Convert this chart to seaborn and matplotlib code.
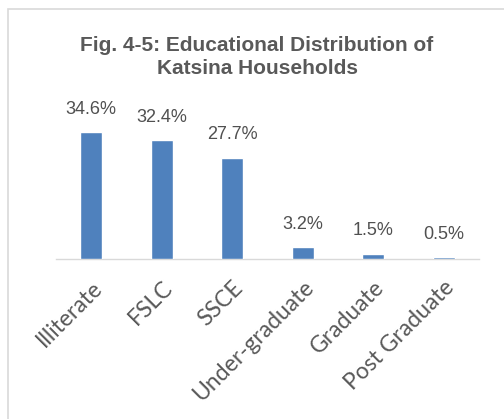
import matplotlib
matplotlib.use("Agg")
import matplotlib.pyplot as plt
import seaborn as sns
import pandas as pd
from matplotlib.patches import Rectangle

categories = ["Illiterate", "FSLC", "SSCE", "Under-graduate", "Graduate", "Post Graduate"]
values = [34.6, 32.4, 27.7, 3.2, 1.5, 0.5]
labels = ["34.6%", "32.4%", "27.7%", "3.2%", "1.5%", "0.5%"]
title = "Fig. 4-5: Educational Distribution of\nKatsina Households"

sns.set_theme(style="white")
plt.rcParams["font.family"] = ["Liberation Sans", "DejaVu Sans"]

df = pd.DataFrame({"cat": categories, "val": values})

fig = plt.figure(figsize=(5.04, 4.19), dpi=100)
fig.patch.set_facecolor("white")
# chart frame
fig.patches.append(Rectangle((8 / 504, -0.05), 1.2, 1 - 9 / 419 + 0.05,
                             transform=fig.transFigure, fill=False,
                             edgecolor="#d9d9d9", linewidth=1.2, zorder=0))

ax = fig.add_axes([56 / 504, 160 / 419, 423 / 504, 146.4 / 419])
sns.barplot(data=df, x="cat", y="val", color="#4f81bd", width=0.31,
            saturation=1, ax=ax, zorder=3)
ax.set_ylim(0, 40)
ax.set_xlim(-0.5, 5.5)
ax.set_xlabel("")
ax.set_ylabel("")
ax.set_yticks([])
for s in ["top", "right", "left"]:
    ax.spines[s].set_visible(False)
ax.spines["bottom"].set_color("#d9d9d9")
ax.spines["bottom"].set_linewidth(1.0)
ax.tick_params(axis="x", length=0, pad=13)
ax.set_xticks(range(len(categories)))
ax.set_xticklabels(categories, rotation=45, ha="right", rotation_mode="anchor",
                   fontsize=16.5, color="#595959", family=["Lato", "DejaVu Sans"])

for i, (v, lab) in enumerate(zip(values, labels)):
    ax.annotate(lab, (i, v), xytext=(0, 10.5), textcoords="offset points",
                ha="center", va="bottom", fontsize=13, color="#505050")

fig.text(0.51, 1 - 36 / 419, title, ha="center", va="top", fontsize=15,
         fontweight="bold", color="#595959", linespacing=1.25)

fig.savefig("out.png", dpi=100, facecolor="white")
